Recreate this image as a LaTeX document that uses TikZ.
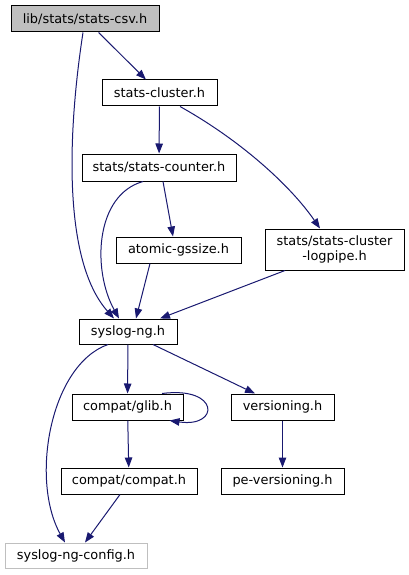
\documentclass[tikz,border=0pt]{standalone}
\usepackage{fontspec}
\setmainfont{DejaVu Sans}
\usetikzlibrary{arrows.meta,calc}
\definecolor{edgeblue}{HTML}{191970}
\definecolor{grayfill}{HTML}{BFBFBF}
\begin{document}
\begin{tikzpicture}[x=1pt,y=-1pt,
  box/.style={draw=black,line width=1pt,fill=white,rectangle,inner sep=0pt,align=center,
    font=\fontsize{12.9}{15}\selectfont},
  edge/.style={draw=edgeblue,line width=1pt,-{Triangle[length=10pt,width=7.5pt]}}]
\useasboundingbox (0,0) rectangle (409,575);
\node[box,fill=grayfill,minimum width=148pt,minimum height=26pt] (csv) at (85,19) {lib/stats/stats-csv.h};
\node[box,minimum width=115pt,minimum height=26pt] (cluster) at (159.5,93) {stats-cluster.h};
\node[box,minimum width=154pt,minimum height=27pt] (counter) at (159,167.5) {stats/stats-counter.h};
\node[box,minimum width=125pt,minimum height=26pt] (atomic) at (178.5,250) {atomic-gssize.h};
\node[box,minimum width=139pt,minimum height=41pt] (logpipe) at (334.5,249.5) {stats/stats-cluster\\-logpipe.h};
\node[box,minimum width=98pt,minimum height=25pt] (syslog) at (128,331.5) {syslog-ng.h};
\node[box,minimum width=111pt,minimum height=26pt] (glib) at (127.5,407) {compat/glib.h};
\node[box,minimum width=103pt,minimum height=26pt] (versioning) at (282.5,407) {versioning.h};
\node[box,minimum width=136pt,minimum height=26pt] (compat) at (129,481) {compat/compat.h};
\node[box,minimum width=123pt,minimum height=26pt] (pe) at (282.5,481) {pe-versioning.h};
\node[box,draw=grayfill,minimum width=142pt,minimum height=25pt] (config) at (76,555.5) {syslog-ng-config.h};

\draw[edge] (csv) -- (cluster);
\draw[edge] ([xshift=-2pt]csv.south) .. controls (68,130) and (62,260) .. ([xshift=-14pt]syslog.north);
\draw[edge] (cluster) -- (counter);
\draw[edge] ([xshift=20.5pt]cluster.south) .. controls (240,140) and (290,185) .. ([xshift=-14.5pt]logpipe.north);
\draw[edge] ([xshift=4pt]counter.south) -- ([xshift=-5.5pt]atomic.north);
\draw[edge] ([xshift=-16pt]counter.south) .. controls (95,195) and (92,270) .. ([xshift=-9pt]syslog.north);
\draw[edge] ([xshift=-28.5pt]atomic.south) -- ([xshift=8pt]syslog.north);
\draw[edge] ([xshift=-49.5pt]logpipe.south) -- ([xshift=32pt]syslog.north);
\draw[edge] (syslog) -- (glib);
\draw[edge] ([xshift=25pt]syslog.south) -- ([xshift=-27.5pt]versioning.north);
\draw[edge] ([xshift=-20pt]syslog.south) .. controls (50,365) and (30,480) .. ([xshift=-11pt]config.north);
\draw[edge] ([xshift=34.5pt]glib.north) .. controls (220,386) and (220,428) .. ([xshift=42pt]glib.south);
\draw[edge] (glib) -- (compat);
\draw[edge] ([xshift=-9pt]compat.south) -- ([xshift=9pt]config.north);
\draw[edge] (versioning) -- (pe);
\end{tikzpicture}
\end{document}
